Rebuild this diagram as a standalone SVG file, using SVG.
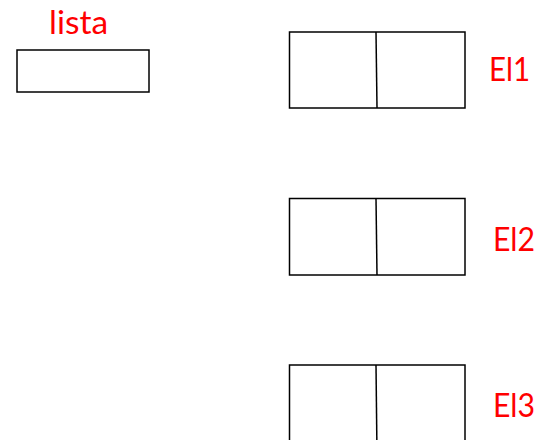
<svg xmlns="http://www.w3.org/2000/svg" width="539" height="440" viewBox="0 0 539 440">
<style>
.box{fill:#fff;stroke:#000;stroke-width:1.5}
.div{stroke:#000;stroke-width:1.5;fill:none}
.lbl{font-family:Lato,"Liberation Sans",sans-serif;font-size:32px;fill:#ff0000}
</style>
<rect width="539" height="440" fill="#fff"/>
<g id="lista">
<rect class="box" x="17" y="50" width="132" height="42"/>
<text class="lbl" x="49" y="34" textLength="59" lengthAdjust="spacingAndGlyphs">lista</text>
</g>
<g id="el1">
<rect class="box" x="289.5" y="32" width="175.5" height="76"/>
<line class="div" x1="376" y1="32" x2="377" y2="108"/>
<text class="lbl" x="489" y="81" textLength="41" lengthAdjust="spacingAndGlyphs">El1</text>
</g>
<g id="el2">
<rect class="box" x="289.5" y="198.5" width="175.5" height="76.5"/>
<line class="div" x1="376" y1="198.5" x2="377" y2="275"/>
<text class="lbl" x="493" y="251" textLength="42" lengthAdjust="spacingAndGlyphs">El2</text>
</g>
<g id="el3">
<rect class="box" x="289.5" y="365" width="175.5" height="90"/>
<line class="div" x1="376" y1="365" x2="377" y2="455"/>
<text class="lbl" x="493" y="417" textLength="42" lengthAdjust="spacingAndGlyphs">El3</text>
</g>
<g id="connectors"></g>
</svg>
